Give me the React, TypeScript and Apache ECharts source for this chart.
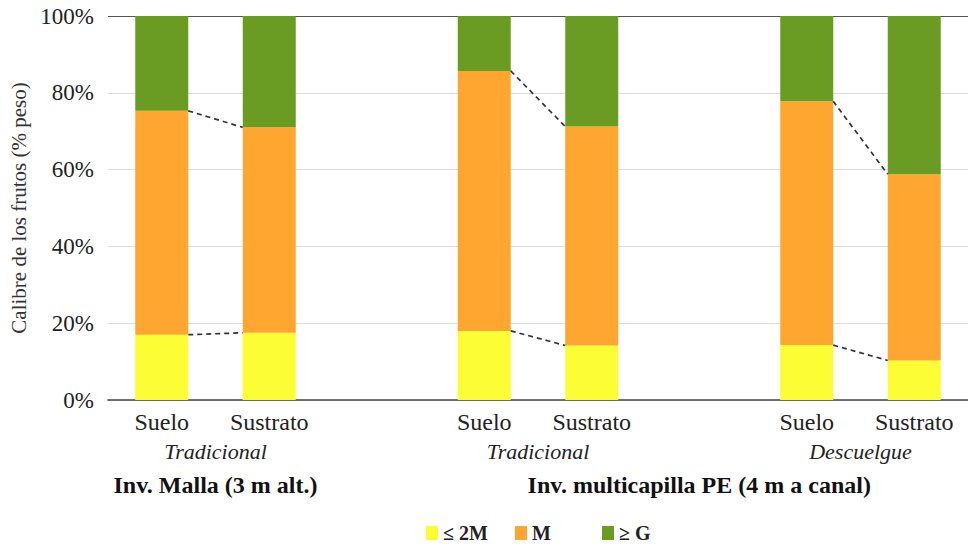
import React, { useEffect, useRef } from "react";
import * as echarts from "echarts";

const categories = ["Suelo", "Sustrato", "", "Suelo", "Sustrato", "", "Suelo", "Sustrato"];
const subLabels: Record<number, string> = { 1: "Tradicional", 4: "Tradicional", 7: "Descuelgue" };
const groupLabels: Record<number, string> = { 1: "Inv. Malla (3 m alt.)", 5.5: "Inv. multicapilla PE (4 m a canal)" };
const seriesNames = ["≤ 2M", "M", "≥ G"];
const small = [17.0, 17.5, null, 18.0, 14.2, null, 14.3, 10.3];
const medium = [58.3, 53.5, null, 67.7, 57.0, null, 63.5, 48.5];
const large = [24.7, 29.0, null, 14.3, 28.8, null, 22.2, 41.2];
const pairs = [[0, 1], [3, 4], [6, 7]];

const colors = ["#FDFD36", "#FFA630", "#6A9B22"];
const FONT = "Liberation Serif";
const BAR_W = 53;
const GRID_LEFT = 108;
const GRID_W = 860;
const legendLefts = [421, 510, 597];

export default function App() {
  const ref = useRef<HTMLDivElement>(null);
  useEffect(() => {
    const chart = echarts.init(ref.current!, null, { renderer: "svg" });
    const slot = GRID_W / categories.length;
    const half = BAR_W / 2 / slot;
    const cum1 = small.map((v) => (v == null ? null : v));
    const cum2 = small.map((v, i) => (v == null ? null : v + (medium[i] as number)));
    const lineSeries: any[] = [];
    pairs.forEach(([a, b]) => {
      [cum1, cum2].forEach((cum) => {
        lineSeries.push({
          type: "line",
          xAxisIndex: 1,
          symbol: "none",
          silent: true,
          lineStyle: { color: "#333", width: 1.7, type: [5, 4] },
          data: [
            [a + 0.5 + half, cum[a]],
            [b + 0.5 - half, cum[b]],
          ],
          z: 5,
        });
      });
    });
    const toData = (arr: (number | null)[]) => arr.map((v) => (v == null ? "-" : v));
    const hiddenValueAxis = (extra: any) => ({
      type: "value",
      min: 0,
      max: categories.length,
      interval: 0.5,
      position: "bottom",
      axisLine: { show: false },
      axisTick: { show: false },
      splitLine: { show: false },
      ...extra,
    });
    chart.setOption({
      animation: false,
      textStyle: { fontFamily: FONT },
      grid: { left: GRID_LEFT, right: 0, top: 16, bottom: 145, containLabel: false, outerBoundsMode: "none" },
      legend: seriesNames.map((n, i) => ({
        data: [n],
        left: legendLefts[i],
        top: 518,
        icon: "rect",
        itemWidth: 12,
        itemHeight: 14,
        itemGap: 8,
        textStyle: { fontFamily: FONT, fontWeight: "bold", fontSize: 20, color: "#222" },
      })),
      xAxis: [
        {
          type: "category",
          data: categories,
          axisLine: { lineStyle: { color: "#444", width: 1.6 } },
          axisTick: { show: false },
          axisLabel: { fontFamily: FONT, fontSize: 24, color: "#222", margin: 10, interval: 0 },
        },
        hiddenValueAxis({
          axisLabel: {
            fontFamily: FONT,
            fontSize: 22,
            fontStyle: "italic",
            color: "#222",
            margin: 40,
            formatter: (v: number) => subLabels[v] || "",
          },
        }),
        hiddenValueAxis({
          axisLabel: {
            fontFamily: FONT,
            fontSize: 24,
            fontWeight: "bold",
            color: "#111",
            margin: 73,
            formatter: (v: number) => groupLabels[v] || "",
          },
        }),
      ],
      yAxis: {
        type: "value",
        min: 0,
        max: 100,
        interval: 20,
        name: "Calibre de los frutos (% peso)",
        nameLocation: "middle",
        nameGap: 79,
        nameTextStyle: { fontFamily: FONT, fontSize: 21, color: "#333" },
        axisLine: { show: false },
        axisTick: { show: false },
        axisLabel: {
          fontFamily: FONT,
          fontSize: 23,
          color: "#222",
          margin: 14,
          formatter: (v: number) => v + "%",
        },
        splitLine: {
          lineStyle: { color: ["#ddd", "#ddd", "#ddd", "#ddd", "#ddd", "#555"], width: 1.2 },
        },
      },
      series: [
        { name: seriesNames[0], type: "bar", stack: "t", barWidth: BAR_W, data: toData(small), itemStyle: { color: colors[0] } },
        { name: seriesNames[1], type: "bar", stack: "t", barWidth: BAR_W, data: toData(medium), itemStyle: { color: colors[1] } },
        { name: seriesNames[2], type: "bar", stack: "t", barWidth: BAR_W, data: toData(large), itemStyle: { color: colors[2] } },
        ...lineSeries,
      ],
    });
    return () => chart.dispose();
  }, []);
  return (
    <div
      ref={ref}
      style={{ position: "fixed", left: 0, top: 0, width: 968, height: 545, background: "#fff" }}
    />
  );
}
